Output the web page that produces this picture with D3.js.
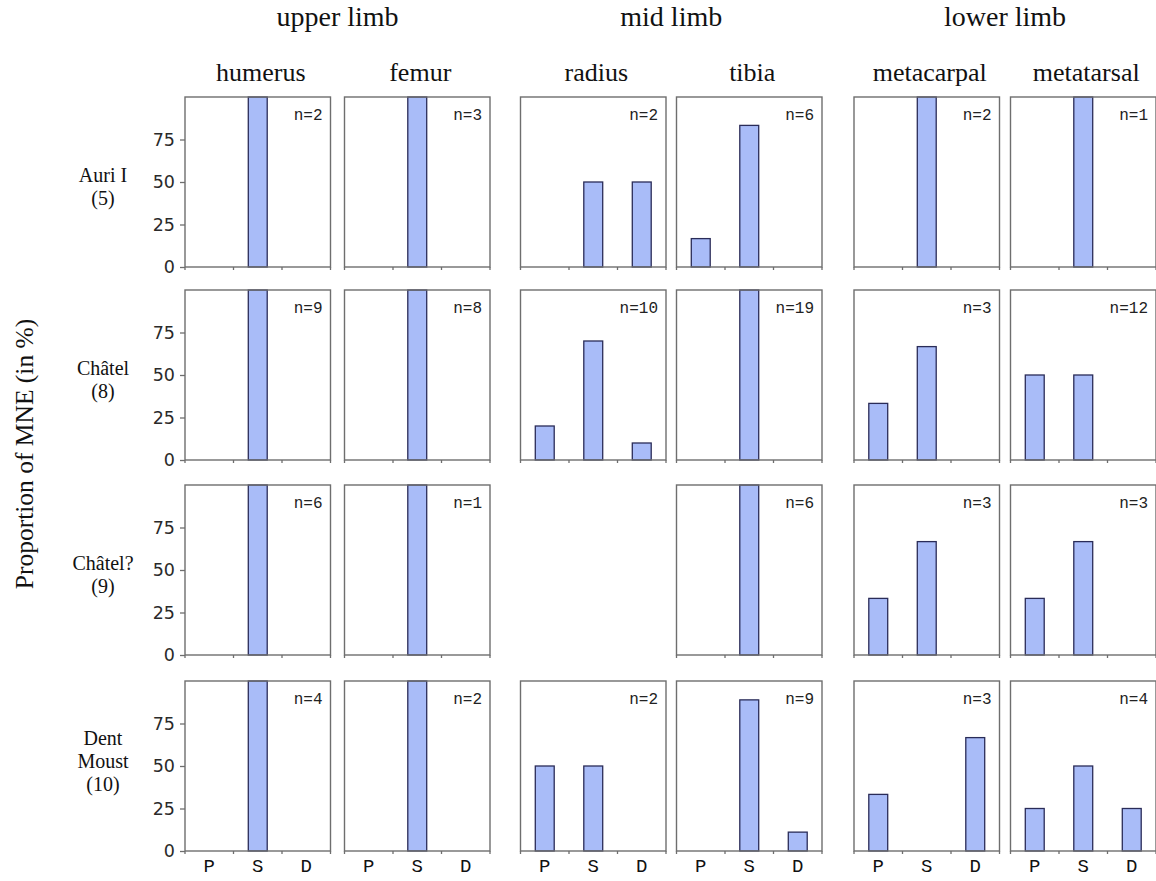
<!DOCTYPE html>
<html>
<head>
<meta charset="utf-8">
<script src="https://cdn.jsdelivr.net/npm/d3@7/dist/d3.min.js"></script>
<style>
  html, body { margin: 0; padding: 0; background: #fff; }
  svg { display: block; }
</style>
</head>
<body>
<svg id="chart" width="1156" height="881"></svg>
<script>
// Skeletal part categories: proximal, shaft, distal
const parts = ["P", "S", "D"];
const bones = ["humerus", "femur", "radius", "tibia", "metacarpal", "metatarsal"];
const limbGroups = ["upper limb", "mid limb", "lower limb"];
const siteLabels = [["Auri I", "(5)"], ["Châtel", "(8)"], ["Châtel?", "(9)"], ["Dent", "Moust", "(10)"]];
const yTickValues = [0, 25, 50, 75];

// Proportion of MNE (%) for P, S, D per bone; null = no specimens
const auriI      = [[0, 100, 0], [0, 100, 0], [0, 50, 50], [16.7, 83.3, 0], [0, 100, 0], [0, 100, 0]];
const auriIN     = [2, 3, 2, 6, 2, 1];
const chatel     = [[0, 100, 0], [0, 100, 0], [20, 70, 10], [0, 100, 0], [33.3, 66.7, 0], [50, 50, 0]];
const chatelN    = [9, 8, 10, 19, 3, 12];
const chatelQ    = [[0, 100, 0], [0, 100, 0], null, [0, 100, 0], [33.3, 66.7, 0], [33.3, 66.7, 0]];
const chatelQN   = [6, 1, null, 6, 3, 3];
const dentMoust  = [[0, 100, 0], [0, 100, 0], [50, 50, 0], [0, 88.9, 11.1], [33.3, 0, 66.7], [25, 50, 25]];
const dentMoustN = [4, 2, 2, 9, 3, 4];

const siteValues = [auriI, chatel, chatelQ, dentMoust];
const siteCounts = [auriIN, chatelN, chatelQN, dentMoustN];

const svg = d3.select("#chart");

const serif = "'Liberation Serif', 'Times New Roman', serif";
const sans = "'DejaVu Sans', Verdana, sans-serif";
const mono = "'Liberation Mono', 'Courier New', monospace";

const frameColor = "#6e6e6e";
const barFill = "#a9bcf8";
const barStroke = "#2a2c58";

// panel layout
const panelW = 145.5, panelH = 170;
const colLeft = [185, 344.5, 520.5, 676.5, 854, 1010.5];
const rowTop = [97, 290, 485, 681];

const x = d3.scaleBand().domain(parts).range([0, panelW]).paddingInner(0.61).paddingOuter(0.305);
const xEdge = d3.scaleLinear().domain([0, parts.length]).range([0, panelW]);
const y = d3.scaleLinear().domain([0, 100]).range([panelH, 0]);

// group headers
limbGroups.forEach((g, i) => {
  const cx = (colLeft[2 * i] + colLeft[2 * i + 1] + panelW) / 2;
  svg.append("text")
    .attr("x", cx).attr("y", 26)
    .attr("text-anchor", "middle")
    .style("font-family", serif).style("font-size", "28px").style("fill", "#111")
    .text(g);
});

// bone headers
bones.forEach((b, j) => {
  svg.append("text")
    .attr("x", colLeft[j] + panelW / 2 + 3).attr("y", 81)
    .attr("text-anchor", "middle")
    .style("font-family", serif).style("font-size", "26px").style("fill", "#111")
    .text(b);
});

// y title
svg.append("text")
  .attr("transform", "translate(33," + 454 + ") rotate(-90)")
  .attr("text-anchor", "middle")
  .style("font-family", serif).style("font-size", "25.5px").style("fill", "#111")
  .text("Proportion of MNE (in %)");

siteLabels.forEach((lines, i) => {
  const cy = rowTop[i] + panelH / 2;
  const first = Math.floor((lines.length - 1) / 2);
  const lineGap = 23;
  const label = svg.append("text")
    .attr("text-anchor", "middle")
    .style("font-family", serif).style("font-size", "20px").style("fill", "#111");
  lines.forEach((ln, k) => {
    label.append("tspan")
      .attr("x", 103).attr("y", cy + (lines.length === 3 ? 2 : 0) + lineGap * (k - first))
      .text(ln);
  });

  bones.forEach((b, j) => {
    const vals = siteValues[i][j];
    const g = svg.append("g").attr("transform", `translate(${colLeft[j]},${rowTop[i]})`);

    if (j === 0) {
      const ax = g.append("g")
        .call(d3.axisLeft(y).tickValues(yTickValues).tickSize(5).tickSizeOuter(0).tickPadding(5));
      ax.select(".domain").remove();
      ax.selectAll("line").attr("stroke", frameColor).attr("stroke-width", 1.3);
      ax.selectAll("text").style("font-family", sans).style("font-size", "17.5px").style("fill", "#2a2a2a");
    }

    if (i === siteLabels.length - 1) {
      const bx = g.append("g").attr("transform", `translate(0,${panelH})`)
        .call(d3.axisBottom(x).tickSize(0).tickPadding(8));
      bx.select(".domain").remove();
      bx.selectAll("text").style("font-family", mono).style("font-size", "19px").style("fill", "#111");
    }

    if (vals === null) return;

    // bars
    const data = parts.map((p, k) => ({ part: p, value: vals[k] })).filter(d => d.value > 0);
    g.selectAll("rect.bar").data(data).join("rect")
      .attr("class", "bar")
      .attr("x", d => x(d.part))
      .attr("width", x.bandwidth())
      .attr("y", d => y(d.value))
      .attr("height", d => y(0) - y(d.value))
      .attr("fill", barFill)
      .attr("stroke", barStroke)
      .attr("stroke-width", 1.3);

    // frame
    g.append("rect")
      .attr("x", 0).attr("y", 0).attr("width", panelW).attr("height", panelH)
      .attr("fill", "none").attr("stroke", frameColor).attr("stroke-width", 1.4);

    // category boundary ticks along the base
    g.selectAll("line.edge").data(d3.range(parts.length + 1)).join("line")
      .attr("class", "edge")
      .attr("x1", d => xEdge(d)).attr("x2", d => xEdge(d))
      .attr("y1", panelH).attr("y2", panelH + 3)
      .attr("stroke", frameColor).attr("stroke-width", 1.3);

    // sample size
    g.append("text")
      .attr("x", panelW - 8).attr("y", 23)
      .attr("text-anchor", "end")
      .style("font-family", mono).style("font-size", "16px").style("fill", "#222")
      .text("n=" + siteCounts[i][j]);
  });
});
</script>
</body>
</html>
